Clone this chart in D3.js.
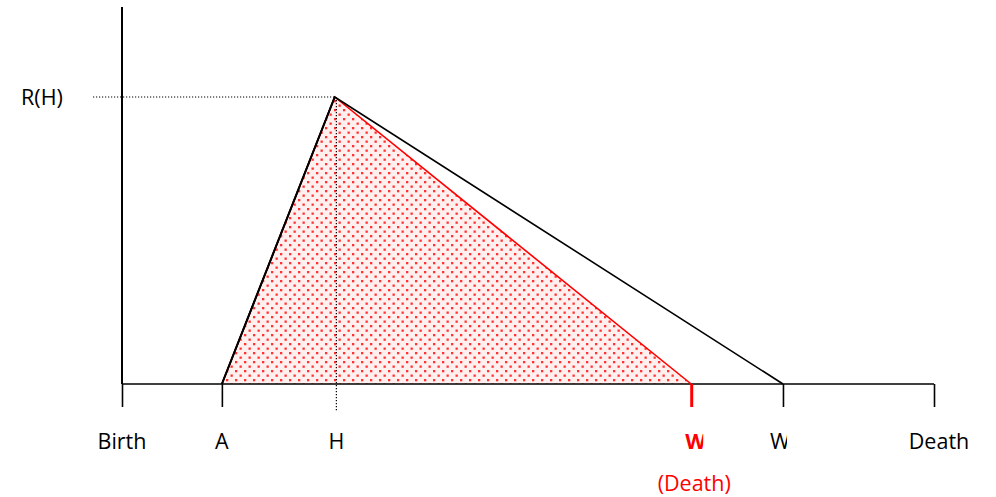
<!DOCTYPE html>
<html>
<head>
<meta charset="utf-8">
<script src="https://cdn.jsdelivr.net/npm/d3@7"></script>
<style>
  body { margin: 0; background: #fff; }
  svg { display: block; }
</style>
</head>
<body>
<svg id="chart"></svg>
<script>
// life course positions, 0 = birth, 100 = death
const tickNames = ["Birth", "A", "H", "W", "W", "Death"];
const tickAges = [0, 12.3, 26.4, 70.1, 81.4, 100];
const tickColors = ["black", "black", "black", "red", "black", "black"];
const labelShift = [0, 0, 0, 0, 0, 5];
const peakAge = 26.2;
const peakValue = 1;          // R(H)
const redDeath = 70.1;
const blackEnd = 81.4;

const width = 996, height = 497;
const svg = d3.select("#chart").attr("width", width).attr("height", height);

const x = d3.scaleLinear().domain([0, 100]).range([122, 934]);
const y = d3.scaleLinear().domain([0, 1]).range([384, 97]);

const font = "'Open Sans', sans-serif";
const fontSize = 21.5;

// dotted fill pattern
const defs = svg.append("defs");
const pat = defs.append("pattern")
  .attr("id", "dots")
  .attr("patternUnits", "userSpaceOnUse")
  .attr("width", 9).attr("height", 9);
pat.append("rect").attr("x", 1).attr("y", 1).attr("width", 2.3).attr("height", 2.3).attr("fill", "#f33");
pat.append("rect").attr("x", 5.5).attr("y", 5.5).attr("width", 2.3).attr("height", 2.3).attr("fill", "#f33");

const redPoly = [[tickAges[1], 0], [peakAge, peakValue], [redDeath, 0]];
const blackPoly = [[tickAges[1], 0], [peakAge, peakValue], [blackEnd, 0]];
const line = d3.line().x(d => x(d[0])).y(d => y(d[1]));

svg.append("path")
  .attr("d", line(redPoly) + "Z")
  .attr("fill", "#fff0f0");
svg.append("path")
  .attr("d", line(redPoly) + "Z")
  .attr("fill", "url(#dots)");

// dotted guides
svg.append("line")
  .attr("x1", 93).attr("x2", x(peakAge))
  .attr("y1", y(peakValue)).attr("y2", y(peakValue))
  .attr("stroke", "black").attr("stroke-width", 1.2).attr("stroke-dasharray", "1.2,1.8");
svg.append("line")
  .attr("x1", x(tickAges[2])).attr("x2", x(tickAges[2]))
  .attr("y1", y(peakValue)).attr("y2", 411)
  .attr("stroke", "black").attr("stroke-width", 1.2).attr("stroke-dasharray", "1.2,1.8");

// y axis
svg.append("line")
  .attr("x1", x(0)).attr("x2", x(0)).attr("y1", 7).attr("y2", y(0))
  .attr("stroke", "black").attr("stroke-width", 2);

// x axis
const xAxis = svg.append("g")
  .attr("transform", `translate(0,${y(0)})`)
  .call(d3.axisBottom(x).tickValues([0, tickAges[1], tickAges[3], tickAges[4], 100]).tickSize(23).tickFormat(""));
xAxis.select(".domain").attr("stroke", "black").attr("stroke-width", 1.6).attr("d", `M${x(0)},0H${x(100)}`);
xAxis.selectAll(".tick line")
  .attr("stroke", d => d === redDeath ? "red" : "black")
  .attr("stroke-width", d => d === redDeath ? 3 : 1.6);

// triangles
svg.append("path")
  .attr("d", line(redPoly))
  .attr("fill", "none").attr("stroke", "red").attr("stroke-width", 1.6);
svg.append("path")
  .attr("d", line(blackPoly))
  .attr("fill", "none").attr("stroke", "black").attr("stroke-width", 1.6);
svg.append("path")
  .attr("d", line([[tickAges[1], 0], [peakAge, peakValue]]))
  .attr("fill", "none").attr("stroke", "black").attr("stroke-width", 2);

// tick labels
tickNames.forEach((name, i) => {
  const tx = x(tickAges[i]);
  const t = svg.append("text")
    .attr("x", tx + labelShift[i]).attr("y", 449)
    .attr("text-anchor", "middle")
    .attr("font-family", font).attr("font-size", fontSize)
    .attr("fill", tickColors[i])
    .text(name);
  if (name === "W") {
    // the W labels are cut off on the right in the original
    const red = tickColors[i] === "red";
    const clipId = "clip" + i;
    defs.append("clipPath").attr("id", clipId)
      .append("rect").attr("x", tx - 40).attr("y", 420).attr("width", red ? 52 : 44).attr("height", 40);
    t.attr("text-anchor", "start")
      .attr("x", red ? tx - 6 : tx - 13)
      .attr("font-weight", red ? "bold" : "normal")
      .attr("clip-path", `url(#${clipId})`);
  }
});

svg.append("text")
  .attr("x", x(redDeath) + 3).attr("y", 491)
  .attr("text-anchor", "middle")
  .attr("font-family", font).attr("font-size", fontSize)
  .attr("fill", "red")
  .text("(Death)");

svg.append("text")
  .attr("x", 42).attr("y", 105)
  .attr("text-anchor", "middle")
  .attr("font-family", font).attr("font-size", fontSize)
  .attr("fill", "black")
  .text("R(H)");
</script>
</body>
</html>
